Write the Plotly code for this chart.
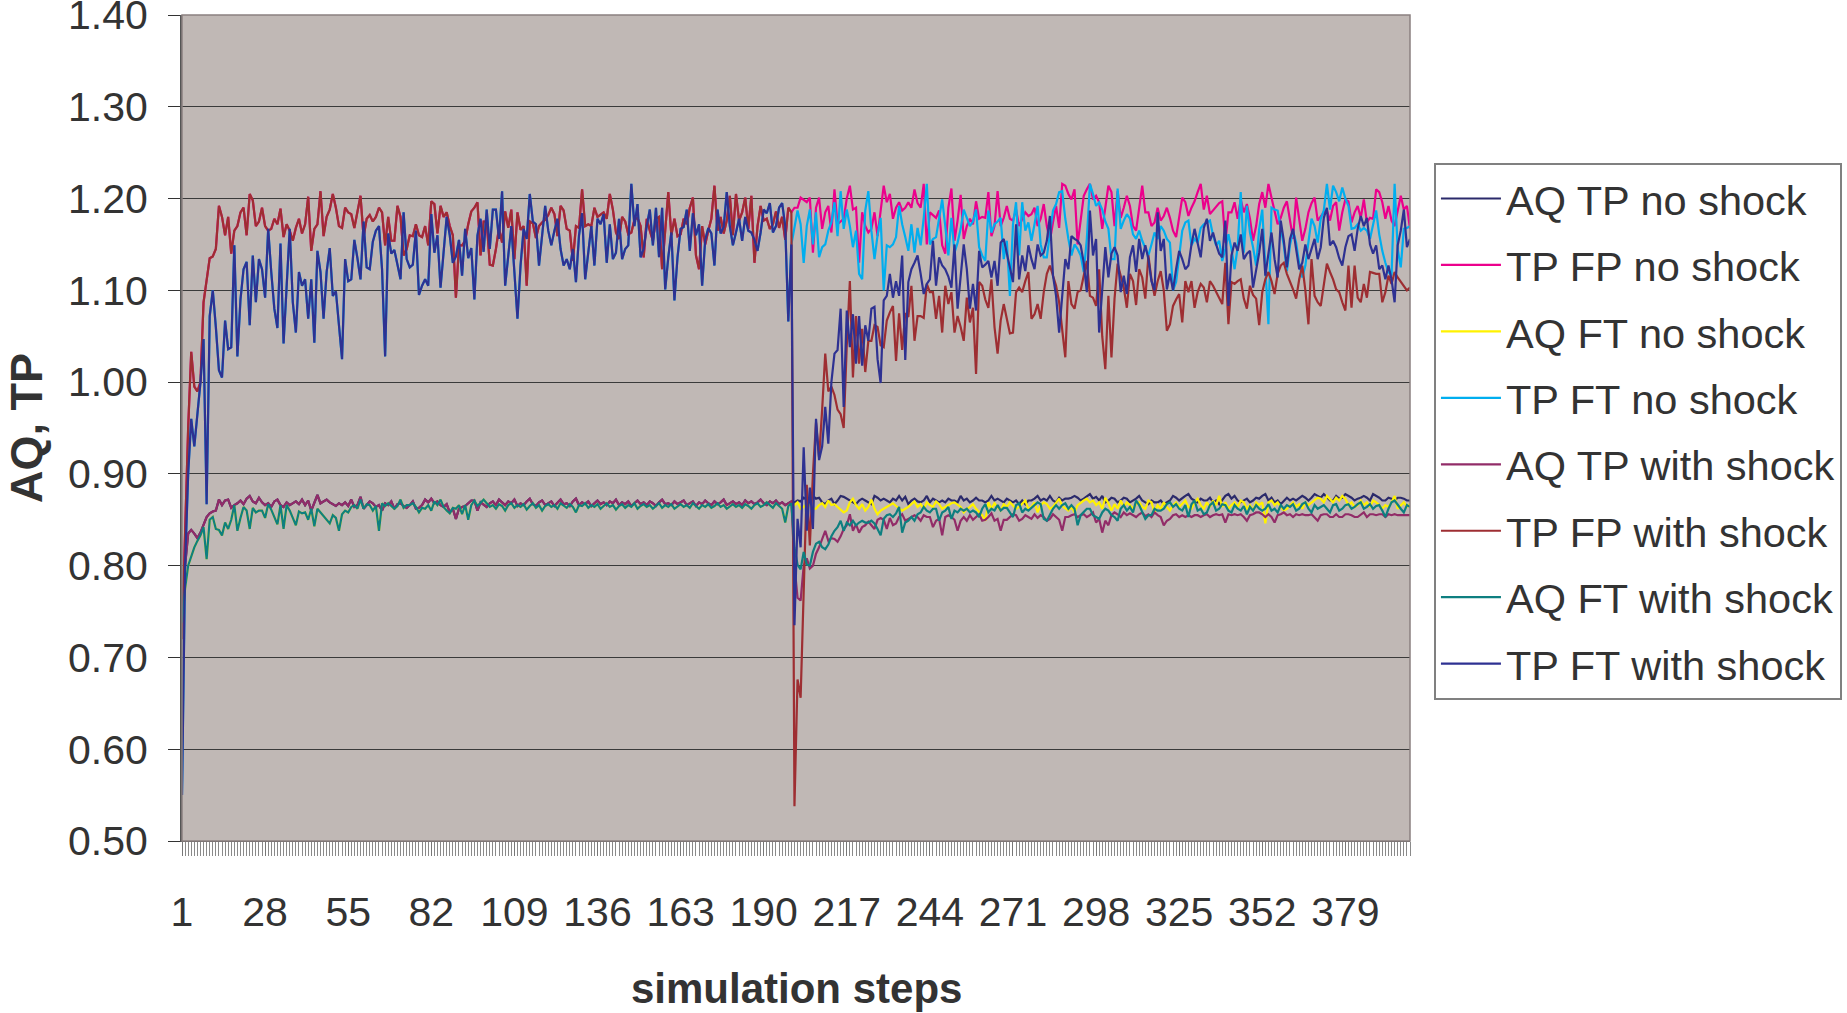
import plotly.graph_objects as go

# x categories: simulation steps 1..400
steps = list(range(1, 401))
x_tick_first = 1
x_tick_every = 27

# ---- steps 1-199 (before the shock both scenarios coincide) ----
aq_tp_pre = [
    0.72, 0.80, 0.835, 0.839, 0.835, 0.830, 0.836, 0.845, 0.853, 0.857,
    0.859, 0.860, 0.872, 0.866, 0.871, 0.872, 0.863, 0.866, 0.868, 0.871,
    0.867, 0.873, 0.876, 0.870, 0.868, 0.874, 0.869, 0.866, 0.868, 0.864,
    0.870, 0.872, 0.866, 0.864, 0.869, 0.866, 0.868, 0.870, 0.867, 0.872,
    0.866, 0.871, 0.860, 0.868, 0.877, 0.868, 0.870, 0.872, 0.869, 0.867,
    0.865, 0.868, 0.866, 0.869, 0.865, 0.872, 0.864, 0.866, 0.875, 0.862,
    0.866, 0.870, 0.868, 0.864, 0.866, 0.860, 0.868, 0.866, 0.870, 0.862,
    0.867, 0.868, 0.865, 0.863, 0.866, 0.870, 0.862, 0.863, 0.866, 0.872,
    0.869, 0.873, 0.868, 0.870, 0.866, 0.864, 0.867, 0.858, 0.862, 0.851,
    0.862, 0.864, 0.865, 0.868, 0.871, 0.871, 0.860, 0.869, 0.866, 0.864,
    0.868, 0.870, 0.866, 0.872, 0.869, 0.866, 0.870, 0.868, 0.872, 0.865,
    0.868, 0.866, 0.870, 0.873, 0.867, 0.865, 0.869, 0.871, 0.866, 0.868,
    0.870, 0.865, 0.869, 0.872, 0.867, 0.868, 0.865, 0.870, 0.873, 0.866,
    0.869, 0.867, 0.870, 0.865, 0.868, 0.871, 0.867, 0.869, 0.866, 0.870,
    0.868, 0.872, 0.866, 0.869, 0.867, 0.870, 0.865, 0.868, 0.871, 0.867,
    0.869, 0.866, 0.870, 0.868, 0.865, 0.869, 0.872, 0.867, 0.868, 0.866,
    0.870, 0.867, 0.869, 0.871, 0.866, 0.868, 0.870, 0.865, 0.869, 0.867,
    0.871, 0.868, 0.866, 0.870, 0.867, 0.869, 0.872, 0.866, 0.868, 0.870,
    0.867, 0.869, 0.866, 0.871, 0.868, 0.870, 0.867, 0.869, 0.872, 0.868,
    0.866, 0.870, 0.868, 0.871, 0.867, 0.869, 0.866, 0.868, 0.870,
]

tp_fp_pre = [
    0.72, 0.84, 0.95, 1.033, 0.995, 0.99, 1.0, 1.087, 1.11, 1.135,
    1.137, 1.145, 1.192, 1.18, 1.16, 1.18, 1.14, 1.165, 1.17, 1.185,
    1.19, 1.16, 1.205, 1.198, 1.17, 1.175, 1.19, 1.17, 1.165, 1.167,
    1.178, 1.172, 1.189, 1.158, 1.172, 1.165, 1.154, 1.168, 1.178, 1.162,
    1.172, 1.202, 1.143, 1.167, 1.172, 1.208, 1.159, 1.18, 1.188, 1.205,
    1.19, 1.17, 1.168, 1.19, 1.185, 1.183, 1.168, 1.185, 1.203, 1.158,
    1.178, 1.182, 1.175, 1.18, 1.19, 1.185, 1.149, 1.18, 1.154, 1.154,
    1.192, 1.18, 1.138, 1.145, 1.16, 1.159, 1.172, 1.16, 1.158, 1.17,
    1.149, 1.197, 1.194, 1.162, 1.192, 1.18, 1.185, 1.17, 1.16, 1.092,
    1.149, 1.149, 1.154, 1.172, 1.186, 1.19, 1.196, 1.138, 1.175, 1.175,
    1.128, 1.127, 1.145, 1.168, 1.152, 1.186, 1.168, 1.188, 1.134, 1.185,
    1.166, 1.17, 1.105, 1.175, 1.173, 1.157, 1.17, 1.174, 1.177, 1.182,
    1.19, 1.183, 1.159, 1.192, 1.187, 1.167, 1.165, 1.132, 1.17, 1.168,
    1.21, 1.17, 1.172, 1.17, 1.19, 1.18, 1.183, 1.185, 1.178, 1.205,
    1.188, 1.163, 1.156, 1.18, 1.175, 1.161, 1.163, 1.177, 1.179, 1.17,
    1.136, 1.178, 1.165, 1.154, 1.178, 1.18, 1.123, 1.165, 1.207, 1.16,
    1.178, 1.159, 1.161, 1.178, 1.172, 1.19, 1.201, 1.138, 1.123, 1.17,
    1.15, 1.165, 1.178, 1.214, 1.165, 1.18, 1.162, 1.176, 1.203, 1.16,
    1.205, 1.176, 1.185, 1.201, 1.167, 1.203, 1.13, 1.17, 1.192, 1.176,
    1.178, 1.167, 1.172, 1.186, 1.168, 1.18, 1.155, 1.19, 1.185,
]

aq_ft_pre = [
    0.738, 0.775, 0.80, 0.81, 0.82, 0.827, 0.833, 0.842, 0.807, 0.85,
    0.853, 0.84, 0.839, 0.833, 0.847, 0.84, 0.85, 0.866, 0.838, 0.852,
    0.864, 0.86, 0.84, 0.863, 0.858, 0.86, 0.86, 0.852, 0.867, 0.861,
    0.853, 0.845, 0.866, 0.84, 0.866, 0.86, 0.852, 0.844, 0.859, 0.857,
    0.858, 0.85, 0.862, 0.843, 0.862, 0.858, 0.855, 0.85, 0.846, 0.855,
    0.852, 0.838, 0.856, 0.86, 0.858, 0.864, 0.866, 0.862, 0.872, 0.862,
    0.867, 0.866, 0.86, 0.865, 0.838, 0.868, 0.865, 0.868, 0.865, 0.862,
    0.865, 0.872, 0.863, 0.866, 0.866, 0.868, 0.864, 0.858, 0.863, 0.862,
    0.866, 0.86, 0.87, 0.866, 0.872, 0.864, 0.86, 0.857, 0.863, 0.862,
    0.866, 0.856, 0.866, 0.85, 0.866, 0.871, 0.865, 0.868, 0.872, 0.868,
    0.864, 0.866, 0.862, 0.867, 0.865, 0.860, 0.866, 0.868, 0.863, 0.866,
    0.864, 0.867, 0.861, 0.865, 0.868, 0.863, 0.866, 0.860, 0.865, 0.867,
    0.864, 0.866, 0.862, 0.868, 0.865, 0.863, 0.867, 0.864, 0.858, 0.866,
    0.865, 0.868, 0.863, 0.866, 0.864, 0.867, 0.862, 0.865, 0.868, 0.864,
    0.866, 0.861, 0.865, 0.867, 0.863, 0.866, 0.864, 0.868, 0.862, 0.865,
    0.867, 0.864, 0.866, 0.862, 0.865, 0.868, 0.863, 0.866, 0.864, 0.867,
    0.862, 0.865, 0.867, 0.864, 0.866, 0.863, 0.868, 0.865, 0.862, 0.866,
    0.864, 0.867, 0.863, 0.865, 0.868, 0.864, 0.866, 0.862, 0.865, 0.867,
    0.864, 0.866, 0.863, 0.867, 0.865, 0.862, 0.866, 0.868, 0.864, 0.866,
    0.869, 0.866, 0.863, 0.868, 0.865, 0.862, 0.847, 0.865, 0.868,
]

tp_ft_pre = [
    0.55, 0.80, 0.90, 0.96, 0.93, 0.964, 1.0, 1.047, 0.867, 1.072,
    1.10, 1.06, 1.013, 1.005, 1.067, 1.036, 1.038, 1.149, 1.028, 1.09,
    1.123, 1.131, 1.062, 1.138, 1.087, 1.134, 1.123, 1.092, 1.167, 1.12,
    1.08, 1.059, 1.151, 1.042, 1.10, 1.167, 1.087, 1.054, 1.12, 1.105,
    1.112, 1.069, 1.112, 1.043, 1.143, 1.12, 1.069, 1.12, 1.146, 1.094,
    1.099, 1.06, 1.025, 1.134, 1.11, 1.112, 1.155, 1.135, 1.112, 1.175,
    1.125, 1.123, 1.153, 1.165, 1.17, 1.123, 1.028, 1.162, 1.14, 1.144,
    1.126, 1.112, 1.185, 1.134, 1.125, 1.128, 1.165, 1.095, 1.105, 1.112,
    1.105, 1.183, 1.141, 1.16, 1.103, 1.14, 1.18, 1.16, 1.13, 1.137,
    1.155, 1.116, 1.167, 1.135, 1.146, 1.09, 1.16, 1.178, 1.142, 1.188,
    1.145, 1.188, 1.188, 1.156, 1.208, 1.105, 1.135, 1.17, 1.12, 1.069,
    1.127, 1.167, 1.156, 1.205, 1.175, 1.172, 1.127, 1.16, 1.192, 1.165,
    1.149, 1.165, 1.178, 1.145, 1.127, 1.134, 1.123, 1.145, 1.109, 1.16,
    1.184, 1.112, 1.141, 1.17, 1.127, 1.178, 1.172, 1.183, 1.13, 1.172,
    1.134, 1.141, 1.178, 1.134, 1.145, 1.149, 1.216, 1.17, 1.194, 1.136,
    1.145, 1.17, 1.188, 1.149, 1.19, 1.136, 1.19, 1.101, 1.136, 1.163,
    1.089, 1.136, 1.167, 1.169, 1.188, 1.143, 1.184, 1.16, 1.172, 1.105,
    1.155, 1.168, 1.162, 1.127, 1.188, 1.162, 1.169, 1.207, 1.17, 1.149,
    1.163, 1.178, 1.154, 1.18, 1.165, 1.163, 1.155, 1.143, 1.163, 1.188,
    1.184, 1.195, 1.163, 1.17, 1.19, 1.195, 1.17, 1.066, 1.15,
]

# ---- steps 200-400, no shock ----
aq_tp_no_shock = [
    0.869, 0.871, 0.870, 0.874, 0.872, 0.873, 0.876, 0.873, 0.874, 0.869, 0.867,
    0.871, 0.873, 0.867, 0.871, 0.876, 0.875, 0.873, 0.871, 0.869, 0.867,
    0.871, 0.873, 0.871, 0.869, 0.867, 0.876, 0.874, 0.871, 0.873, 0.871,
    0.869, 0.873, 0.871, 0.876, 0.871, 0.875, 0.867, 0.871, 0.873, 0.870,
    0.869, 0.871, 0.876, 0.869, 0.873, 0.871, 0.869, 0.871, 0.869, 0.873,
    0.871, 0.871, 0.869, 0.876, 0.871, 0.873, 0.869, 0.871, 0.874, 0.871,
    0.871, 0.869, 0.871, 0.876, 0.871, 0.873, 0.871, 0.869, 0.873, 0.871,
    0.869, 0.871, 0.867, 0.871, 0.867, 0.871, 0.871, 0.873, 0.876, 0.871,
    0.873, 0.871, 0.876, 0.871, 0.869, 0.874, 0.871, 0.873, 0.873, 0.874,
    0.876, 0.874, 0.871, 0.873, 0.876, 0.878, 0.873, 0.875, 0.871, 0.876,
    0.869, 0.871, 0.874, 0.873, 0.869, 0.871, 0.874, 0.873, 0.869, 0.871,
    0.873, 0.876, 0.871, 0.869, 0.867, 0.871, 0.869, 0.869, 0.871, 0.867,
    0.869, 0.871, 0.876, 0.874, 0.871, 0.874, 0.876, 0.878, 0.873, 0.871,
    0.869, 0.873, 0.871, 0.871, 0.874, 0.869, 0.871, 0.867, 0.871, 0.876,
    0.878, 0.873, 0.876, 0.871, 0.869, 0.871, 0.873, 0.869, 0.871, 0.874,
    0.873, 0.876, 0.878, 0.871, 0.874, 0.869, 0.871, 0.867, 0.871, 0.874,
    0.871, 0.873, 0.871, 0.874, 0.876, 0.874, 0.871, 0.874, 0.878, 0.876,
    0.874, 0.878, 0.874, 0.871, 0.871, 0.876, 0.873, 0.874, 0.878, 0.876,
    0.874, 0.871, 0.873, 0.874, 0.876, 0.874, 0.871, 0.878, 0.876, 0.874,
    0.871, 0.871, 0.874, 0.873, 0.871, 0.874, 0.874, 0.873, 0.871, 0.871,
]

tp_fp_no_shock = [
    1.19, 1.19, 1.201, 1.198, 1.196, 1.201, 1.141, 1.19, 1.201, 1.167, 1.185,
    1.192, 1.163, 1.21, 1.172, 1.175, 1.178, 1.2, 1.214, 1.188, 1.19,
    1.13, 1.185, 1.17, 1.163, 1.167, 1.185, 1.159, 1.19, 1.214, 1.196,
    1.205, 1.178, 1.19, 1.196, 1.187, 1.19, 1.196, 1.19, 1.21, 1.195,
    1.19, 1.216, 1.15, 1.185, 1.182, 1.179, 1.187, 1.149, 1.14, 1.19,
    1.211, 1.154, 1.176, 1.204, 1.156, 1.17, 1.178, 1.172, 1.197, 1.178,
    1.18, 1.179, 1.207, 1.159, 1.17, 1.208, 1.17, 1.179, 1.192, 1.178,
    1.176, 1.188, 1.17, 1.178, 1.185, 1.181, 1.183, 1.19, 1.17, 1.178,
    1.194, 1.17, 1.154, 1.174, 1.192, 1.168, 1.216, 1.214, 1.205, 1.199,
    1.21, 1.15, 1.176, 1.203, 1.21, 1.216, 1.199, 1.203, 1.196, 1.167,
    1.19, 1.214, 1.207, 1.17, 1.208, 1.179, 1.19, 1.203, 1.192, 1.17,
    1.165, 1.19, 1.214, 1.185, 1.185, 1.17, 1.174, 1.19, 1.176, 1.181,
    1.19, 1.179, 1.165, 1.158, 1.18, 1.201, 1.196, 1.181, 1.19, 1.197,
    1.207, 1.216, 1.188, 1.203, 1.183, 1.187, 1.192, 1.195, 1.197, 1.152,
    1.185, 1.185, 1.196, 1.178, 1.199, 1.185, 1.194, 1.178, 1.154, 1.17,
    1.194, 1.207, 1.19, 1.216, 1.201, 1.188, 1.172, 1.179, 1.19, 1.197,
    1.175, 1.156, 1.201, 1.179, 1.154, 1.167, 1.185, 1.195, 1.201, 1.176,
    1.181, 1.185, 1.187, 1.176, 1.192, 1.196, 1.165, 1.185, 1.199, 1.197,
    1.174, 1.185, 1.192, 1.179, 1.199, 1.174, 1.179, 1.178, 1.21, 1.207,
    1.196, 1.178, 1.192, 1.176, 1.17, 1.188, 1.203, 1.188, 1.192, 1.167,
]

aq_ft_no_shock = [
    0.866, 0.869, 0.862, 0.864, 0.867, 0.866, 0.862, 0.862, 0.866, 0.868, 0.864,
    0.871, 0.866, 0.867, 0.864, 0.862, 0.858, 0.860, 0.869, 0.873, 0.866,
    0.862, 0.867, 0.860, 0.864, 0.872, 0.862, 0.856, 0.860, 0.862, 0.864,
    0.866, 0.868, 0.865, 0.862, 0.860, 0.862, 0.864, 0.867, 0.870, 0.864,
    0.867, 0.862, 0.869, 0.866, 0.864, 0.870, 0.867, 0.862, 0.864, 0.866,
    0.868, 0.869, 0.866, 0.864, 0.858, 0.862, 0.864, 0.867, 0.862, 0.858,
    0.855, 0.849, 0.869, 0.862, 0.868, 0.864, 0.860, 0.867, 0.864, 0.869,
    0.866, 0.862, 0.864, 0.867, 0.871, 0.862, 0.864, 0.869, 0.858, 0.866,
    0.869, 0.867, 0.862, 0.864, 0.869, 0.873, 0.865, 0.862, 0.860, 0.864,
    0.858, 0.866, 0.869, 0.871, 0.873, 0.869, 0.871, 0.866, 0.869, 0.862,
    0.874, 0.868, 0.860, 0.867, 0.862, 0.871, 0.864, 0.869, 0.866, 0.862,
    0.867, 0.869, 0.864, 0.862, 0.871, 0.869, 0.858, 0.866, 0.862, 0.869,
    0.864, 0.860, 0.866, 0.869, 0.864, 0.867, 0.871, 0.864, 0.862, 0.869,
    0.873, 0.866, 0.862, 0.869, 0.864, 0.871, 0.866, 0.876, 0.864, 0.869,
    0.862, 0.866, 0.869, 0.864, 0.871, 0.869, 0.862, 0.866, 0.860, 0.869,
    0.866, 0.869, 0.846, 0.869, 0.871, 0.866, 0.869, 0.864, 0.860, 0.862,
    0.866, 0.869, 0.864, 0.867, 0.862, 0.869, 0.866, 0.869, 0.871, 0.874,
    0.873, 0.869, 0.876, 0.873, 0.869, 0.874, 0.871, 0.876, 0.873, 0.866,
    0.869, 0.864, 0.866, 0.871, 0.866, 0.869, 0.864, 0.871, 0.869, 0.866,
    0.862, 0.866, 0.864, 0.869, 0.876, 0.862, 0.866, 0.869, 0.864, 0.867,
]

tp_ft_no_shock = [
    1.17, 1.187, 1.172, 1.13, 1.17, 1.188, 1.15, 1.185, 1.136, 1.147, 1.15,
    1.165, 1.174, 1.196, 1.159, 1.208, 1.167, 1.188, 1.17, 1.147, 1.165,
    1.118, 1.112, 1.187, 1.208, 1.165, 1.134, 1.16, 1.179, 1.10, 1.149,
    1.147, 1.15, 1.158, 1.192, 1.172, 1.158, 1.143, 1.172, 1.141, 1.168,
    1.149, 1.179, 1.216, 1.15, 1.156, 1.158, 1.178, 1.199, 1.17, 1.138,
    1.179, 1.141, 1.152, 1.167, 1.188, 1.179, 1.17, 1.175, 1.188, 1.147,
    1.138, 1.132, 1.187, 1.163, 1.172, 1.175, 1.179, 1.134, 1.154, 1.094,
    1.172, 1.196, 1.138, 1.196, 1.165, 1.174, 1.154, 1.172, 1.192, 1.15,
    1.136, 1.136, 1.161, 1.187, 1.194, 1.207, 1.208, 1.178, 1.156, 1.138,
    1.15, 1.145, 1.138, 1.12, 1.156, 1.216, 1.205, 1.192, 1.196, 1.188,
    1.175, 1.167, 1.134, 1.134, 1.211, 1.167, 1.176, 1.183, 1.178, 1.161,
    1.156, 1.165, 1.154, 1.145, 1.138, 1.15, 1.163, 1.156, 1.17, 1.165,
    1.156, 1.152, 1.10, 1.109, 1.14, 1.165, 1.174, 1.176, 1.149, 1.156,
    1.152, 1.168, 1.172, 1.174, 1.176, 1.16, 1.149, 1.154, 1.132, 1.145,
    1.161, 1.145, 1.123, 1.147, 1.207, 1.141, 1.192, 1.163, 1.147, 1.127,
    1.167, 1.188, 1.12, 1.063, 1.19, 1.188, 1.187, 1.17, 1.149, 1.121,
    1.149, 1.165, 1.152, 1.129, 1.114, 1.127, 1.15, 1.178, 1.17, 1.152,
    1.178, 1.187, 1.216, 1.188, 1.214, 1.207, 1.197, 1.212, 1.2, 1.192,
    1.167, 1.168, 1.172, 1.165, 1.168, 1.165, 1.156, 1.172, 1.187, 1.161,
    1.143, 1.13, 1.12, 1.116, 1.216, 1.145, 1.125, 1.167, 1.168, 1.17,
]

# ---- steps 200-400, with shock ----
aq_tp_shock = [
    0.80, 0.765, 0.762, 0.80, 0.808, 0.797, 0.80, 0.813, 0.82, 0.83, 0.838,
    0.827, 0.83, 0.829, 0.826, 0.832, 0.84, 0.844, 0.856, 0.838, 0.845,
    0.836, 0.842, 0.844, 0.848, 0.844, 0.84, 0.85, 0.852, 0.85, 0.84,
    0.852, 0.844, 0.846, 0.853, 0.856, 0.849, 0.851, 0.853, 0.855, 0.853,
    0.849, 0.855, 0.853, 0.853, 0.842, 0.849, 0.851, 0.833, 0.853, 0.855,
    0.853, 0.85, 0.838, 0.849, 0.853, 0.849, 0.855, 0.85, 0.853, 0.856,
    0.849, 0.85, 0.853, 0.857, 0.849, 0.851, 0.838, 0.85, 0.85, 0.853,
    0.856, 0.855, 0.849, 0.851, 0.855, 0.853, 0.851, 0.856, 0.852, 0.855,
    0.853, 0.849, 0.851, 0.856, 0.853, 0.85, 0.838, 0.853, 0.853, 0.855,
    0.856, 0.853, 0.855, 0.856, 0.853, 0.855, 0.858, 0.847, 0.851, 0.836,
    0.849, 0.844, 0.855, 0.858, 0.856, 0.853, 0.858, 0.855, 0.857, 0.855,
    0.853, 0.856, 0.858, 0.854, 0.856, 0.853, 0.858, 0.855, 0.853, 0.844,
    0.849, 0.851, 0.855, 0.856, 0.853, 0.855, 0.853, 0.855, 0.853, 0.855,
    0.855, 0.853, 0.855, 0.856, 0.853, 0.855, 0.856, 0.855, 0.856, 0.847,
    0.856, 0.855, 0.856, 0.855, 0.856, 0.853, 0.849, 0.855, 0.856, 0.858,
    0.858, 0.856, 0.853, 0.856, 0.853, 0.847, 0.855, 0.856, 0.858, 0.855,
    0.856, 0.853, 0.856, 0.855, 0.856, 0.855, 0.855, 0.856, 0.853, 0.849,
    0.855, 0.856, 0.856, 0.853, 0.853, 0.856, 0.853, 0.853, 0.856, 0.856,
    0.855, 0.853, 0.853, 0.856, 0.858, 0.853, 0.856, 0.856, 0.855, 0.856,
    0.856, 0.853, 0.856, 0.855, 0.856, 0.855, 0.855, 0.855, 0.855, 0.855,
]

tp_fp_shock = [
    0.538, 0.676, 0.656, 0.78, 0.888, 0.822, 0.90, 0.956, 0.918, 0.97, 1.031,
    0.99, 0.995, 0.986, 0.97, 0.965, 0.95, 1.04, 1.11, 1.005, 1.072,
    1.02, 1.058, 1.011, 1.045, 1.045, 1.062, 1.06, 1.04, 1.038, 1.067,
    1.076, 1.083, 1.023, 1.075, 1.035, 1.075, 1.071, 1.105, 1.045, 1.072,
    1.072, 1.07, 1.107, 1.098, 1.098, 1.069, 1.094, 1.054, 1.105, 1.085,
    1.098, 1.054, 1.072, 1.06, 1.045, 1.092, 1.065, 1.081, 1.009, 1.109,
    1.105, 1.09, 1.081, 1.112, 1.06, 1.031, 1.067, 1.085, 1.069, 1.053,
    1.054, 1.098, 1.103, 1.098, 1.11, 1.12, 1.069, 1.074, 1.085, 1.069,
    1.098, 1.118, 1.127, 1.115, 1.105, 1.087, 1.06, 1.027, 1.11, 1.085,
    1.08, 1.098, 1.10, 1.115, 1.132, 1.094, 1.092, 1.083, 1.123, 1.05,
    1.014, 1.094, 1.027, 1.091, 1.129, 1.116, 1.103, 1.081, 1.118, 1.11,
    1.084, 1.123, 1.114, 1.091, 1.138, 1.112, 1.094, 1.11, 1.121, 1.10,
    1.056, 1.063, 1.083, 1.09, 1.096, 1.065, 1.11, 1.098, 1.11, 1.081,
    1.098, 1.107, 1.103, 1.087, 1.11, 1.105, 1.098, 1.091, 1.085, 1.13,
    1.063, 1.109, 1.107, 1.11, 1.112, 1.091, 1.08, 1.105, 1.095, 1.091,
    1.062, 1.098, 1.112, 1.12, 1.11, 1.096, 1.118, 1.127, 1.13, 1.118,
    1.11, 1.101, 1.091, 1.112, 1.127, 1.10, 1.063, 1.134, 1.094, 1.087,
    1.083, 1.107, 1.129, 1.12, 1.112, 1.101, 1.098, 1.087, 1.078, 1.127,
    1.081, 1.127, 1.092, 1.087, 1.107, 1.092, 1.12, 1.119, 1.118, 1.118,
    1.087, 1.098, 1.116, 1.107, 1.12, 1.114, 1.109, 1.105, 1.10, 1.103,
]

aq_ft_shock = [
    0.82, 0.801, 0.796, 0.815, 0.801, 0.80, 0.815, 0.824, 0.826, 0.82, 0.818,
    0.823, 0.832, 0.838, 0.842, 0.849, 0.838, 0.847, 0.844, 0.849, 0.844,
    0.847, 0.849, 0.847, 0.847, 0.849, 0.846, 0.84, 0.833, 0.851, 0.855,
    0.856, 0.853, 0.857, 0.864, 0.836, 0.847, 0.849, 0.853, 0.849, 0.856,
    0.858, 0.864, 0.86, 0.858, 0.862, 0.862, 0.849, 0.858, 0.86, 0.864,
    0.851, 0.86, 0.858, 0.862, 0.86, 0.862, 0.858, 0.86, 0.858, 0.853,
    0.862, 0.867, 0.858, 0.862, 0.86, 0.866, 0.86, 0.863, 0.863, 0.858,
    0.853, 0.866, 0.868, 0.858, 0.862, 0.86, 0.863, 0.865, 0.869, 0.867,
    0.851, 0.849, 0.855, 0.862, 0.866, 0.862, 0.866, 0.868, 0.862, 0.866,
    0.862, 0.844, 0.855, 0.858, 0.862, 0.862, 0.855, 0.853, 0.851, 0.858,
    0.862, 0.86, 0.855, 0.853, 0.849, 0.862, 0.866, 0.86, 0.864, 0.858,
    0.871, 0.866, 0.858, 0.851, 0.855, 0.855, 0.862, 0.86, 0.86, 0.862,
    0.867, 0.869, 0.864, 0.867, 0.862, 0.86, 0.866, 0.853, 0.867, 0.871,
    0.86, 0.862, 0.856, 0.858, 0.866, 0.869, 0.86, 0.862, 0.867, 0.866,
    0.86, 0.858, 0.866, 0.862, 0.86, 0.865, 0.856, 0.864, 0.86, 0.866,
    0.862, 0.86, 0.862, 0.867, 0.86, 0.862, 0.858, 0.866, 0.862, 0.866,
    0.864, 0.867, 0.86, 0.862, 0.867, 0.869, 0.862, 0.858, 0.866, 0.862,
    0.864, 0.866, 0.862, 0.858, 0.866, 0.867, 0.86, 0.862, 0.866, 0.867,
    0.862, 0.864, 0.867, 0.869, 0.862, 0.864, 0.867, 0.862, 0.865, 0.866,
    0.86, 0.853, 0.862, 0.869, 0.871, 0.866, 0.862, 0.858, 0.866, 0.864,
]

tp_ft_shock = [
    0.735, 0.851, 0.82, 0.929, 0.838, 0.885, 0.84, 0.96, 0.915, 0.93, 0.973,
    0.933, 1.0, 1.031, 1.035, 1.08, 0.973, 1.078, 1.038, 1.074, 1.02,
    1.072, 1.018, 1.062, 1.045, 1.08, 1.082, 1.025, 0.999, 1.089, 1.094,
    1.118, 1.092, 1.11, 1.094, 1.138, 1.024, 1.109, 1.123, 1.13, 1.138,
    1.118, 1.096, 1.107, 1.112, 1.154, 1.105, 1.136, 1.127, 1.123, 1.115,
    1.103, 1.15, 1.08, 1.115, 1.15, 1.123, 1.08, 1.107, 1.078, 1.143,
    1.125, 1.128, 1.132, 1.114, 1.132, 1.105, 1.152, 1.156, 1.14, 1.125,
    1.109, 1.172, 1.112, 1.138, 1.121, 1.149, 1.134, 1.123, 1.15, 1.138,
    1.141, 1.154, 1.181, 1.116, 1.094, 1.054, 1.09, 1.134, 1.123, 1.159,
    1.156, 1.154, 1.149, 1.13, 1.098, 1.187, 1.138, 1.156, 1.054, 1.10,
    1.147, 1.114, 1.14, 1.147, 1.138, 1.098, 1.116, 1.096, 1.136, 1.149,
    1.12, 1.156, 1.134, 1.149, 1.134, 1.11, 1.10, 1.185, 1.143, 1.156,
    1.101, 1.118, 1.10, 1.123, 1.143, 1.134, 1.123, 1.127, 1.15, 1.167,
    1.152, 1.136, 1.168, 1.178, 1.154, 1.163, 1.15, 1.14, 1.136, 1.176,
    1.083, 1.138, 1.152, 1.143, 1.161, 1.134, 1.14, 1.143, 1.103, 1.12,
    1.141, 1.167, 1.116, 1.14, 1.163, 1.134, 1.114, 1.176, 1.154, 1.125,
    1.156, 1.167, 1.147, 1.123, 1.13, 1.15, 1.134, 1.145, 1.156, 1.134,
    1.147, 1.179, 1.19, 1.149, 1.154, 1.147, 1.135, 1.127, 1.147, 1.159,
    1.161, 1.143, 1.167, 1.181, 1.17, 1.179, 1.15, 1.14, 1.149, 1.123,
    1.127, 1.112, 1.127, 1.112, 1.087, 1.149, 1.165, 1.188, 1.147, 1.156,
]

for arr in (aq_tp_pre, tp_fp_pre, aq_ft_pre, tp_ft_pre):
    assert len(arr) == 199, len(arr)
for arr in (aq_tp_no_shock, tp_fp_no_shock, aq_ft_no_shock, tp_ft_no_shock,
            aq_tp_shock, tp_fp_shock, aq_ft_shock, tp_ft_shock):
    assert len(arr) == 201, len(arr)

series_names = ["AQ TP no shock", "TP FP no shock", "AQ FT no shock", "TP FT no shock",
                "AQ TP with shock", "TP FP with shock", "AQ FT with shock", "TP FT with shock"]
series_values = [
    aq_tp_pre + aq_tp_no_shock,
    tp_fp_pre + tp_fp_no_shock,
    aq_ft_pre + aq_ft_no_shock,
    tp_ft_pre + tp_ft_no_shock,
    aq_tp_pre + aq_tp_shock,
    tp_fp_pre + tp_fp_shock,
    aq_ft_pre + aq_ft_shock,
    tp_ft_pre + tp_ft_shock,
]
series_colors = ["#2B2A6B", "#EC008C", "#FFF200", "#00AEEF",
                 "#922C68", "#9E2E32", "#0E7F80", "#2E3192"]

FONT = "Liberation Sans, Arial, Helvetica, sans-serif"
TEXT = "#333333"

fig = go.Figure()
for i, (name, vals, col) in enumerate(zip(series_names, series_values, series_colors)):
    fig.add_trace(go.Scatter(
        x=steps, y=vals, mode="lines", name=name,
        line=dict(color=col, width=2.2),
        legendgroup=f"g{i}",
    ))

fig.update_layout(
    width=1847, height=1013,
    margin=dict(l=182, r=437, t=15, b=172, autoexpand=False),
    paper_bgcolor="white",
    plot_bgcolor="#C0B8B5",
    font=dict(family=FONT, size=41, color=TEXT),
    showlegend=True,
    legend=dict(
        x=1.0195, y=0.8208, xanchor="left", yanchor="top",
        bgcolor="white", bordercolor="#808080", borderwidth=2,
        font=dict(family=FONT, size=41.5, color=TEXT),
        tracegroupgap=9.5, itemwidth=60,
    ),
    xaxis=dict(
        range=[1, 400], tickmode="linear", tick0=x_tick_first, dtick=x_tick_every,
        ticks="outside", ticklen=14, tickwidth=1, tickcolor="#777777",
        minor=dict(tickmode="linear", tick0=1, dtick=1, ticks="outside",
                   ticklen=14, tickwidth=1, tickcolor="#8a8a8a", showgrid=False),
        showgrid=False, zeroline=False, showline=True, linecolor="#555555", linewidth=1,
        tickfont=dict(family=FONT, size=41, color=TEXT),
        ticklabelstandoff=21, automargin=False,
    ),
    yaxis=dict(
        range=[0.5, 1.4], tickmode="linear", tick0=0.5, dtick=0.1, tickformat=".2f",
        ticks="outside", ticklen=12, tickwidth=1, tickcolor="#333333",
        showgrid=True, gridcolor="#3a3a3a", gridwidth=1,
        zeroline=False, showline=True, linecolor="#555555", linewidth=2,
        tickfont=dict(family=FONT, size=41, color=TEXT),
        ticklabelstandoff=12, ticklabeloverflow="allow", automargin=False,
    ),
    annotations=[
        dict(text="<b>simulation steps</b>", xref="paper", yref="paper",
             x=0.5, y=-0.179, xanchor="center", yanchor="middle", showarrow=False,
             font=dict(family=FONT, size=42, color=TEXT)),
        dict(text="<b>AQ, TP</b>", xref="paper", yref="paper",
             x=-0.127, y=0.5, xanchor="center", yanchor="middle", showarrow=False,
             textangle=-90, font=dict(family=FONT, size=45, color=TEXT)),
    ],
    shapes=[dict(type="rect", xref="paper", yref="paper", x0=0, y0=0, x1=1, y1=1,
                 line=dict(color="#8a8080", width=1.5), layer="above")],
)

fig.write_html("out.html")
